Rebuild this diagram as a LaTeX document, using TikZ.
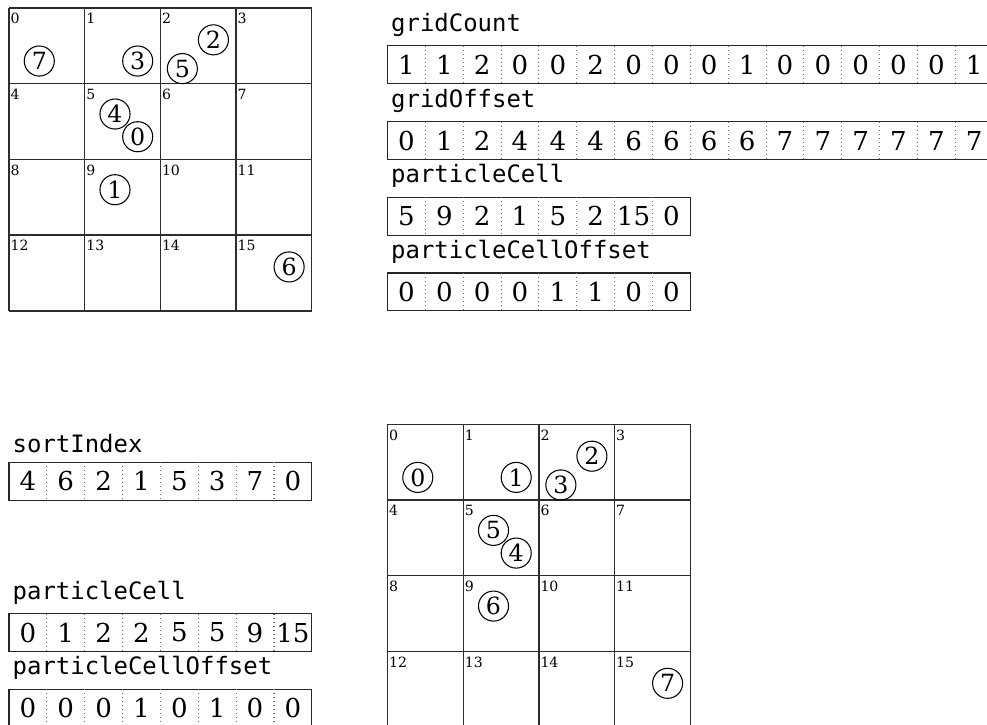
\documentclass[tikz,border=0pt]{standalone}
\usepackage{fontspec}
\setmainfont{DejaVu Serif}
\setmonofont{DejaVu Sans Mono}
\usetikzlibrary{positioning}
\definecolor{GridGray}{RGB}{45,45,45}
\definecolor{SepGray}{RGB}{110,110,110}

\begin{document}
\begin{tikzpicture}[
  cellline/.style={draw=GridGray,line width=0.5pt},
  cellno/.style={anchor=north west,inner xsep=0.4pt,inner ysep=1.8pt,font=\fontsize{5.3}{6}\selectfont},
  particle/.style={circle,draw,line width=0.4pt,minimum size=11.3pt,inner sep=0pt,font=\fontsize{8.9}{10}\selectfont},
  arraybox/.style={draw=black!85,line width=0.4pt,minimum height=0.5cm,anchor=north west,inner sep=0pt,outer sep=0pt},
  arrayname/.style={anchor=south west,inner xsep=1.2pt,font=\ttfamily\fontsize{9}{10}\selectfont},
  entry/.style={inner sep=0pt,font=\fontsize{9.8}{11}\selectfont},
  sepline/.style={draw=SepGray,line width=0.4pt,dash pattern=on 0.4pt off 1.1pt}
]
\useasboundingbox (-0.119,0.106) rectangle (12.919,-9.458);

\begin{scope}
\draw[cellline] (0,-4) grid (4,0);
\foreach \c in {0,...,15}{
  \pgfmathtruncatemacro{\cx}{mod(\c,4)}
  \pgfmathtruncatemacro{\cy}{\c/4}
  \node[cellno] (top-c\c) at (\cx,-\cy) {\c};
}
\foreach \id/\px/\py in {7/0.4/0.7,3/1.7/0.7,2/2.7/0.42,5/2.29/0.8,4/1.4/1.4,0/1.7/1.7,1/1.4/2.4,6/3.7/3.42}
  \node[particle] (top-p\id) at (\px,-\py) {\id};
\end{scope}

\begin{scope}[shift={(5,-5.5)}]
\draw[cellline] (0,-4) grid (4,0);
\foreach \c in {0,...,15}{
  \pgfmathtruncatemacro{\cx}{mod(\c,4)}
  \pgfmathtruncatemacro{\cy}{\c/4}
  \node[cellno] (bot-c\c) at (\cx,-\cy) {\c};
}
\foreach \id/\px/\py in {0/0.4/0.7,1/1.7/0.7,2/2.7/0.42,3/2.29/0.8,5/1.4/1.4,4/1.7/1.7,6/1.4/2.4,7/3.7/3.42}
  \node[particle] (bot-p\id) at (\px,-\py) {\id};
\end{scope}

\foreach \nm/\lbl/\x/\y/\n/\vals in {
  topCount/gridCount/5/0.5/16/{1,1,2,0,0,2,0,0,0,1,0,0,0,0,0,1},
  topOffset/gridOffset/5/1.5/16/{0,1,2,4,4,4,6,6,6,6,7,7,7,7,7,7},
  topCell/particleCell/5/2.5/8/{5,9,2,1,5,2,15,0},
  topCellOffset/particleCellOffset/5/3.5/8/{0,0,0,0,1,1,0,0},
  sortIdx/sortIndex/0/6/8/{4,6,2,1,5,3,7,0},
  sortCell/particleCell/0/8/8/{0,1,2,2,5,5,9,15},
  sortCellOffset/particleCellOffset/0/9/8/{0,0,0,1,0,1,0,0}}{
  \node[arraybox,minimum width=\n*0.5cm] (\nm) at (\x,-\y) {};
  \node[arrayname] (\nm-name) at (\nm.north west) {\lbl};
  \foreach \v [count=\i from 0] in \vals {
    \node[entry] (\nm-\i) at (\x+0.25+0.5*\i,-\y-0.25) {\v};
    \ifnum\i>0 \draw[sepline] (\x+0.5*\i,-\y) -- (\x+0.5*\i,-\y-0.5); \fi
  }
}
\end{tikzpicture}
\end{document}
